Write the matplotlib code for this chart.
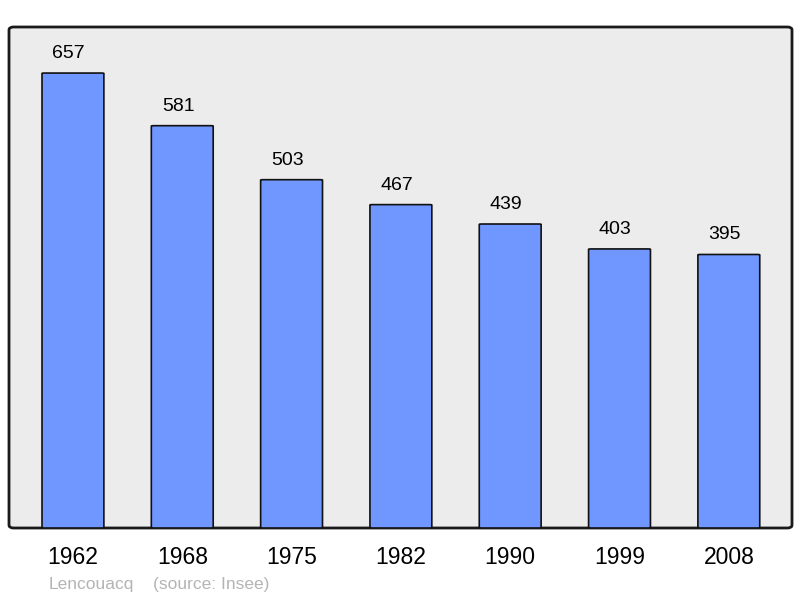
import matplotlib
matplotlib.use("Agg")
import matplotlib.pyplot as plt
from matplotlib.patches import FancyBboxPatch

years = ["1962", "1968", "1975", "1982", "1990", "1999", "2008"]
population = [657, 581, 503, 467, 439, 403, 395]
commune = "Lencouacq"
source = "(source: Insee)"

BG, BAR, INK, MUT = "#ececec", "#7097ff", "#000000", "#b4b4b4"
plt.rcParams["font.family"] = ["Liberation Sans", "DejaVu Sans"]

fig = plt.figure(figsize=(8.0, 5.98), dpi=100, facecolor="white")
ax = fig.add_axes([9 / 800, 70 / 598, 783 / 800, 501 / 598])
ax.set_facecolor("none")
ax.set_xlim(-0.585, 6.578)
ax.set_ylim(0, 723.5)
for s in ax.spines.values():
    s.set_visible(False)
ax.set_xticks([]); ax.set_yticks([])

# rounded frame behind the bars
frame = FancyBboxPatch((0, 0), 1, 1, boxstyle="round,pad=0,rounding_size=0.006",
                       transform=ax.transAxes, facecolor=BG, edgecolor="#1a1a1a",
                       lw=2, zorder=0, clip_on=False)
ax.add_patch(frame)

xs = range(len(years))
for x, v in zip(xs, population):
    ax.add_patch(FancyBboxPatch((x - 0.283, 0), 0.566, v,
                                boxstyle="round,pad=0,rounding_size=0.02",
                                mutation_aspect=30,
                                facecolor=BAR, edgecolor="#111111", lw=1.2, zorder=2))
    ax.annotate(str(v), (x, v), xytext=(-3, 8), textcoords="offset points",
                ha="center", va="bottom", fontsize=14, color=INK)
    ax.annotate(years[x], (x, 0), xytext=(0, -13), textcoords="offset points",
                ha="center", va="top", fontsize=16.5, color=INK, annotation_clip=False)

fig.text(49 / 800, 1 - 584 / 598, commune, fontsize=12.5, color=MUT, va="center")
fig.text(153 / 800, 1 - 584 / 598, source, fontsize=12.5, color=MUT, va="center")

fig.savefig("out.png", dpi=100, facecolor="white")
